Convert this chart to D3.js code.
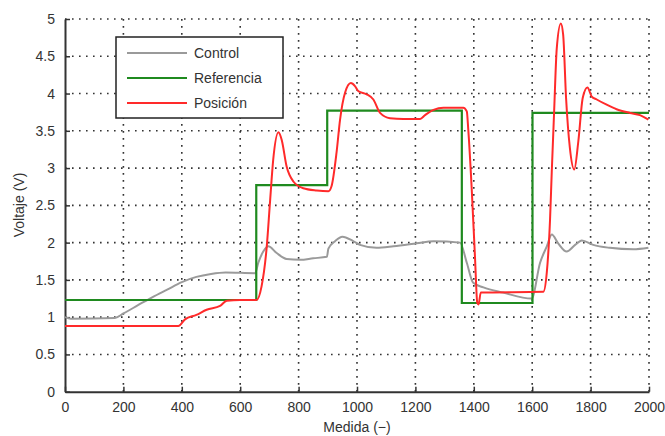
<!DOCTYPE html>
<html>
<head>
<meta charset="utf-8">
<script src="https://cdn.jsdelivr.net/npm/d3@7"></script>
<style>
  html, body { margin: 0; padding: 0; background: #fff; }
  svg { display: block; }
  text { font-family: "Liberation Sans", Arial, sans-serif; fill: #333; }
</style>
</head>
<body>
<svg id="chart" width="665" height="436"></svg>
<script>
// ---- data ----
const xTicks = [0, 200, 400, 600, 800, 1000, 1200, 1400, 1600, 1800, 2000];
const yTicks = [0, 0.5, 1, 1.5, 2, 2.5, 3, 3.5, 4, 4.5, 5];
const seriesNames = ["Control", "Referencia", "Posición"];
const seriesColors = ["#9a9a9a", "#1f8a1f", "#ff2a2a"];

const controlPts = [
  [0,1.0],[20,0.98],[171,0.99],[200,1.05],[250,1.16],[300,1.27],[350,1.37],[400,1.47],
  [450,1.54],[500,1.58],[550,1.60],[651,1.59],[662,1.73],[679,1.88],[696,1.95],[725,1.86],
  [759,1.78],[805,1.77],[850,1.79],[897,1.81],[902,1.92],[925,2.02],[950,2.08],[987,2.02],
  [1010,1.97],[1067,1.93],[1125,1.95],[1204,1.99],[1262,2.02],[1353,2.00],[1376,1.73],
  [1398,1.46],[1433,1.40],[1500,1.33],[1598,1.25],[1627,1.73],[1650,1.95],[1667,2.11],
  [1689,1.99],[1718,1.88],[1747,1.97],[1770,2.03],[1809,1.97],[1866,1.93],[1946,1.91],[1998,1.93]
];
const referenciaPts = [
  [0,1.23],[655,1.23],[655,2.77],[898,2.77],[898,3.77],[1359,3.77],[1359,1.19],
  [1601,1.19],[1601,3.74],[2000,3.74]
];
const posicionPts = [
  [0,0.88],[388,0.88],[411,0.97],[450,1.03],[485,1.10],[531,1.15],[554,1.22],[600,1.23],
  [656,1.23],[673,1.41],[691,1.95],[702,2.54],[713,3.11],[731,3.48],[742,3.38],[759,3.02],
  [782,2.82],[816,2.73],[862,2.70],[902,2.69],[913,2.76],[930,3.21],[942,3.65],[959,4.01],
  [979,4.14],[993,4.10],[1005,4.03],[1033,3.99],[1056,3.92],[1079,3.74],[1113,3.67],
  [1159,3.66],[1216,3.66],[1233,3.71],[1262,3.78],[1296,3.81],[1364,3.81],[1376,3.76],
  [1381,3.52],[1393,2.71],[1404,1.81],[1412,1.19],[1416,1.17],[1424,1.33],[1638,1.34],
  [1650,1.6],[1661,2.3],[1667,2.95],[1675,3.75],[1684,4.6],[1698,4.94],[1706,4.79],
  [1716,3.94],[1729,3.27],[1744,2.98],[1758,3.36],[1773,3.94],[1789,4.08],[1804,3.96],
  [1821,3.92],[1855,3.85],[1889,3.79],[1935,3.74],[1969,3.71],[1998,3.65]
];

// ---- layout ----
const svg = d3.select("#chart");
const W = 665, H = 436;
const m = { left: 65, top: 19, right: 16, bottom: 44.3 };
const x = d3.scaleLinear().domain([0, 2000]).range([m.left, W - m.right]);
const y = d3.scaleLinear().domain([0, 5]).range([H - m.bottom, m.top]);

// grid
const grid = svg.append("g").attr("stroke", "#333").attr("stroke-width", 1.6)
  .attr("stroke-dasharray", "1.6,5.4");
grid.selectAll(".vg").data(xTicks.slice(1)).join("line")
  .attr("x1", d => x(d)).attr("x2", d => x(d))
  .attr("y1", y(0)).attr("y2", y(5));
grid.selectAll(".hg").data(yTicks.slice(1)).join("line")
  .attr("x1", x(0)).attr("x2", x(2000))
  .attr("y1", d => y(d)).attr("y2", d => y(d));

// axes
const xAxis = d3.axisBottom(x).tickValues(xTicks).tickSizeInner(-5).tickSizeOuter(0).tickPadding(10)
  .tickFormat(d3.format("d"));
const yAxis = d3.axisLeft(y).tickValues(yTicks).tickSizeInner(-5).tickSizeOuter(0).tickPadding(10)
  .tickFormat(d3.format("~g"));
const gx = svg.append("g").attr("transform", `translate(0,${y(0)})`).call(xAxis);
const gy = svg.append("g").attr("transform", `translate(${x(0)},0)`).call(yAxis);
[gx, gy].forEach(g => {
  g.select(".domain").attr("stroke", "#333").attr("stroke-width", 2);
  g.selectAll(".tick line").attr("stroke", "#333").attr("stroke-width", 1.5);
  g.selectAll(".tick text").attr("font-size", 14).attr("fill", "#333")
    .attr("font-family", "Liberation Sans, Arial, sans-serif");
});

// axis labels
svg.append("text").attr("x", 357).attr("y", 432).attr("text-anchor", "middle")
  .attr("font-size", 14).text("Medida (−)");
svg.append("text").attr("transform", `translate(24,205) rotate(-90)`)
  .attr("text-anchor", "middle").attr("font-size", 14).text("Voltaje (V)");

// lines
const line = d3.line().x(d => x(d[0])).y(d => y(d[1]));
const smooth = d3.line().x(d => x(d[0])).y(d => y(d[1])).curve(d3.curveMonotoneX);
svg.append("path").datum(controlPts).attr("d", smooth)
  .attr("fill", "none").attr("stroke", seriesColors[0]).attr("stroke-width", 2);
svg.append("path").datum(referenciaPts).attr("d", line)
  .attr("fill", "none").attr("stroke", seriesColors[1]).attr("stroke-width", 2.2);
svg.append("path").datum(posicionPts).attr("d", smooth)
  .attr("fill", "none").attr("stroke", seriesColors[2]).attr("stroke-width", 2);

// legend
const lg = svg.append("g");
lg.append("rect").attr("x", 116).attr("y", 37).attr("width", 167).attr("height", 81)
  .attr("fill", "#fff").attr("stroke", "#222").attr("stroke-width", 1.5);
seriesNames.forEach((name, i) => {
  const cy = 53 + i * 25;
  lg.append("line").attr("x1", 127).attr("x2", 187).attr("y1", cy).attr("y2", cy)
    .attr("stroke", seriesColors[i]).attr("stroke-width", 2);
  lg.append("text").attr("x", 194).attr("y", cy + 5).attr("font-size", 14).text(name);
});
</script>
</body>
</html>
